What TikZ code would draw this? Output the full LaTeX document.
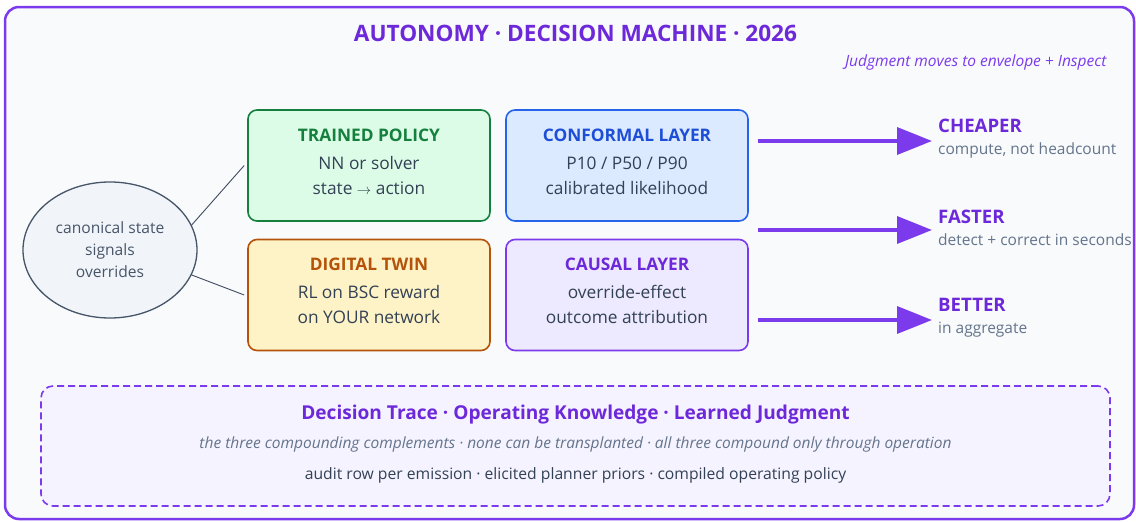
\documentclass[tikz,border=0pt]{standalone}
\usepackage{fontspec}
\setmainfont{Open Sans}
\usepackage{xcolor}
\definecolor{violet}{HTML}{7C3AED}
\definecolor{deepviolet}{HTML}{6D28D9}
\definecolor{ink}{HTML}{334155}
\definecolor{slate}{HTML}{475569}
\definecolor{muted}{HTML}{64748B}
\definecolor{paper}{HTML}{F8FAFC}
\definecolor{policyfill}{HTML}{DCFCE7}
\definecolor{policyline}{HTML}{15803D}
\definecolor{twinfill}{HTML}{FEF3C7}
\definecolor{twinline}{HTML}{B45309}
\definecolor{conffill}{HTML}{DBEAFE}
\definecolor{confline}{HTML}{2563EB}
\definecolor{conftext}{HTML}{1D4ED8}
\definecolor{causefill}{HTML}{EDE9FE}
\definecolor{statefill}{HTML}{F1F5F9}
\definecolor{tracefill}{HTML}{F5F3FF}
\usepackage{tikz}
\usetikzlibrary{shapes,arrows,arrows.meta}
\usetikzlibrary{positioning}
\tikzstyle{block} = [rectangle, draw, rounded corners=9pt, line width=1.6pt,
    minimum width=242pt, minimum height=111pt, align=center, text=ink,
    font=\fontsize{17.3}{25}\selectfont]
\tikzstyle{gain} = [anchor=west, align=left, inner sep=0pt, text=muted,
    font=\fontsize{15.5}{22}\selectfont]
\tikzstyle{line} = [draw, slate!90!black, line width=0.9pt]
\tikzstyle{outarrow} = [draw, violet, line width=3.5pt, -{Triangle[length=35pt,width=27pt]}]
% extra room under the last line lifts the text a little
\newcommand{\liftstrut}{\rule[-8.5pt]{0pt}{1pt}}

\begin{document}
\begin{tikzpicture}[x=1pt,y=-1pt,node distance=258pt]
    \useasboundingbox (0,0) rectangle (1136,522);
    % frame and headings
    \draw[violet, line width=2.5pt, fill=paper, rounded corners=14pt] (5,7) rectangle (1134,519);
    \node[text=deepviolet, font=\fontsize{22.6}{26}\selectfont\bfseries] (title) at (575.5,33)
        {AUTONOMY · DECISION MACHINE · 2026};
    \node[text=violet, anchor=east, font=\fontsize{15.5}{18}\selectfont\itshape] (note) at (1110,62.5)
        {Judgment moves to envelope + Inspect};

    % Place nodes
    \node [ellipse, draw=slate, line width=1.3pt, fill=statefill, minimum width=174pt,
        minimum height=136pt, align=center, text=slate, font=\fontsize{15.6}{22}\selectfont]
        (state) at (110,250) {canonical state\\signals\\overrides};
    \node [block, fill=policyfill, draw=policyline] (policy) at (369,165.5)
        {\textcolor{policyline}{\textbf{TRAINED POLICY}}\\[3pt] NN or solver\\ state {\fontsize{14}{14}\selectfont$\rightarrow$} action\liftstrut};
    \node [block, fill=twinfill, draw=twinline, node distance=129.5pt, below of=policy] (twin)
        {\textcolor{twinline}{\textbf{DIGITAL TWIN}}\\[3pt] RL on BSC reward\\ on YOUR network\liftstrut};
    \node [block, fill=conffill, draw=confline, right of=policy] (conformal)
        {\textcolor{conftext}{\textbf{CONFORMAL LAYER}}\\[3pt] P10 / P50 / P90\\ calibrated likelihood\liftstrut};
    \node [block, fill=causefill, draw=violet, right of=twin] (causal)
        {\textcolor{deepviolet}{\textbf{CAUSAL LAYER}}\\[3pt] override-effect\\ outcome attribution\liftstrut};

    % outcomes
    \node [gain] (cheaper) at (938,139)
        {\textcolor{deepviolet}{\fontsize{18.6}{22}\selectfont\bfseries CHEAPER}\\ compute, not headcount};
    \node [gain] (faster) at (938,228)
        {\textcolor{deepviolet}{\fontsize{18.6}{22}\selectfont\bfseries FASTER}\\ detect + correct in seconds};
    \node [gain] (better) at (938,318)
        {\textcolor{deepviolet}{\fontsize{18.6}{22}\selectfont\bfseries BETTER}\\ in aggregate};

    % the compounding assets
    \node [rectangle, draw=violet, dashed, dash pattern=on 7pt off 4pt, line width=1.6pt,
        rounded corners=12pt, fill=tracefill, minimum width=1069pt, minimum height=120pt]
        (traces) at (575.5,446) {};
    \node [text=deepviolet, font=\fontsize{19.1}{22}\selectfont\bfseries] (tracehead) at (575.5,414.5)
        {Decision Trace · Operating Knowledge · Learned Judgment};
    \node [text=muted, font=\fontsize{15.5}{18}\selectfont\itshape] (tracenote) at (575.5,444.5)
        {the three compounding complements · none can be transplanted · all three compound only through operation};
    \node [text=ink, font=\fontsize{15.7}{18}\selectfont] (tracerows) at (575.5,475.5)
        {audit row per emission · elicited planner priors · compiled operating policy};

    % Draw edges
    \path [line] (state.17) -- ([xshift=-3pt]policy.west);
    \path [line] (state.-17) -- ([xshift=-3pt]twin.west);
    \path [outarrow] ([xshift=9pt,yshift=-2pt]conformal.east |- cheaper.west) -- ([xshift=-6pt,yshift=-2pt]cheaper.west);
    \path [outarrow] ([xshift=9pt,yshift=-2pt]conformal.east |- faster.west) -- ([xshift=-6pt,yshift=-2pt]faster.west);
    \path [outarrow] ([xshift=9pt,yshift=-2pt]causal.east |- better.west) -- ([xshift=-6pt,yshift=-2pt]better.west);
\end{tikzpicture}
\end{document}
